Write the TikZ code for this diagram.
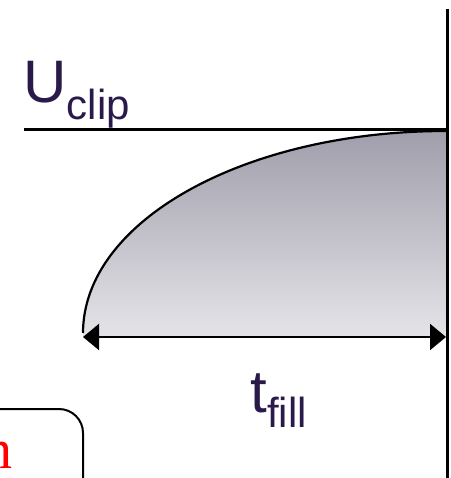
\documentclass[tikz,border=0pt]{standalone}
\usepackage{fontspec}
\setmainfont{Liberation Sans}
\newfontfamily\redserif{Liberation Serif}
\usetikzlibrary{arrows.meta}
\definecolor{txtpurple}{HTML}{2A1A4A}
\definecolor{shadetop}{HTML}{A09EAB}
\definecolor{shadebot}{HTML}{E4E4E8}
\tikzset{
  thickline/.style={line width=3pt},
  curveline/.style={line width=2.2pt},
  dimarrow/.style={line width=2.2pt,{Triangle[length=16pt,width=26pt]}-{Triangle[length=16pt,width=26pt]}},
  bigtxt/.style={inner sep=0pt,text=txtpurple,font=\fontsize{60}{60}\selectfont},
  subtxt/.style={inner sep=0pt,text=txtpurple,font=\fontsize{42}{42}\selectfont},
  notebox/.style={line width=2pt,rounded corners=24pt},
}
\begin{document}
\begin{tikzpicture}[x=1pt,y=-1pt]
\useasboundingbox (0,0) rectangle (450,478);
\clip (0,0) rectangle (450,478);
\coordinate (start) at (83,333);
\coordinate (peak) at (446,131);
\coordinate (hleft) at (24,130);
\coordinate (vtop) at (447,9);
\coordinate (vbot) at (447,480);
\coordinate (aleft) at (83,337);
\coordinate (aright) at (446,337);
% shaded region
\shade[top color=shadetop,bottom color=shadebot]
  (aleft) -- (start) .. controls (83,221) and (245,131) .. (peak) -- (447,131) -- (447,337) -- cycle;
% curve
\draw[curveline] (start) .. controls (83,221) and (245,131) .. (peak);
% lines
\draw[thickline] (hleft) -- (hleft -| vtop);
\draw[thickline] (vtop) -- (vbot);
% dimension arrow
\draw[dimarrow] (aleft) -- (aright);
% labels
\node[bigtxt,anchor=base west] (U) at (23,103) {U};
\node[subtxt,anchor=base west] (clip) at (U.base east) [yshift=-17pt] {clip};
\node[bigtxt,anchor=base west] (t) at (250,412) {t};
\node[subtxt,anchor=base west] (fill) at (t.base east) [yshift=-15pt] {fill};
% partial box
\draw[notebox] (-60,409) rectangle (83,540);
\node[inner sep=0pt,anchor=base east,text=red,font=\redserif\fontsize{56}{56}\selectfont] (n) at (13,468) {n};
\end{tikzpicture}
\end{document}
